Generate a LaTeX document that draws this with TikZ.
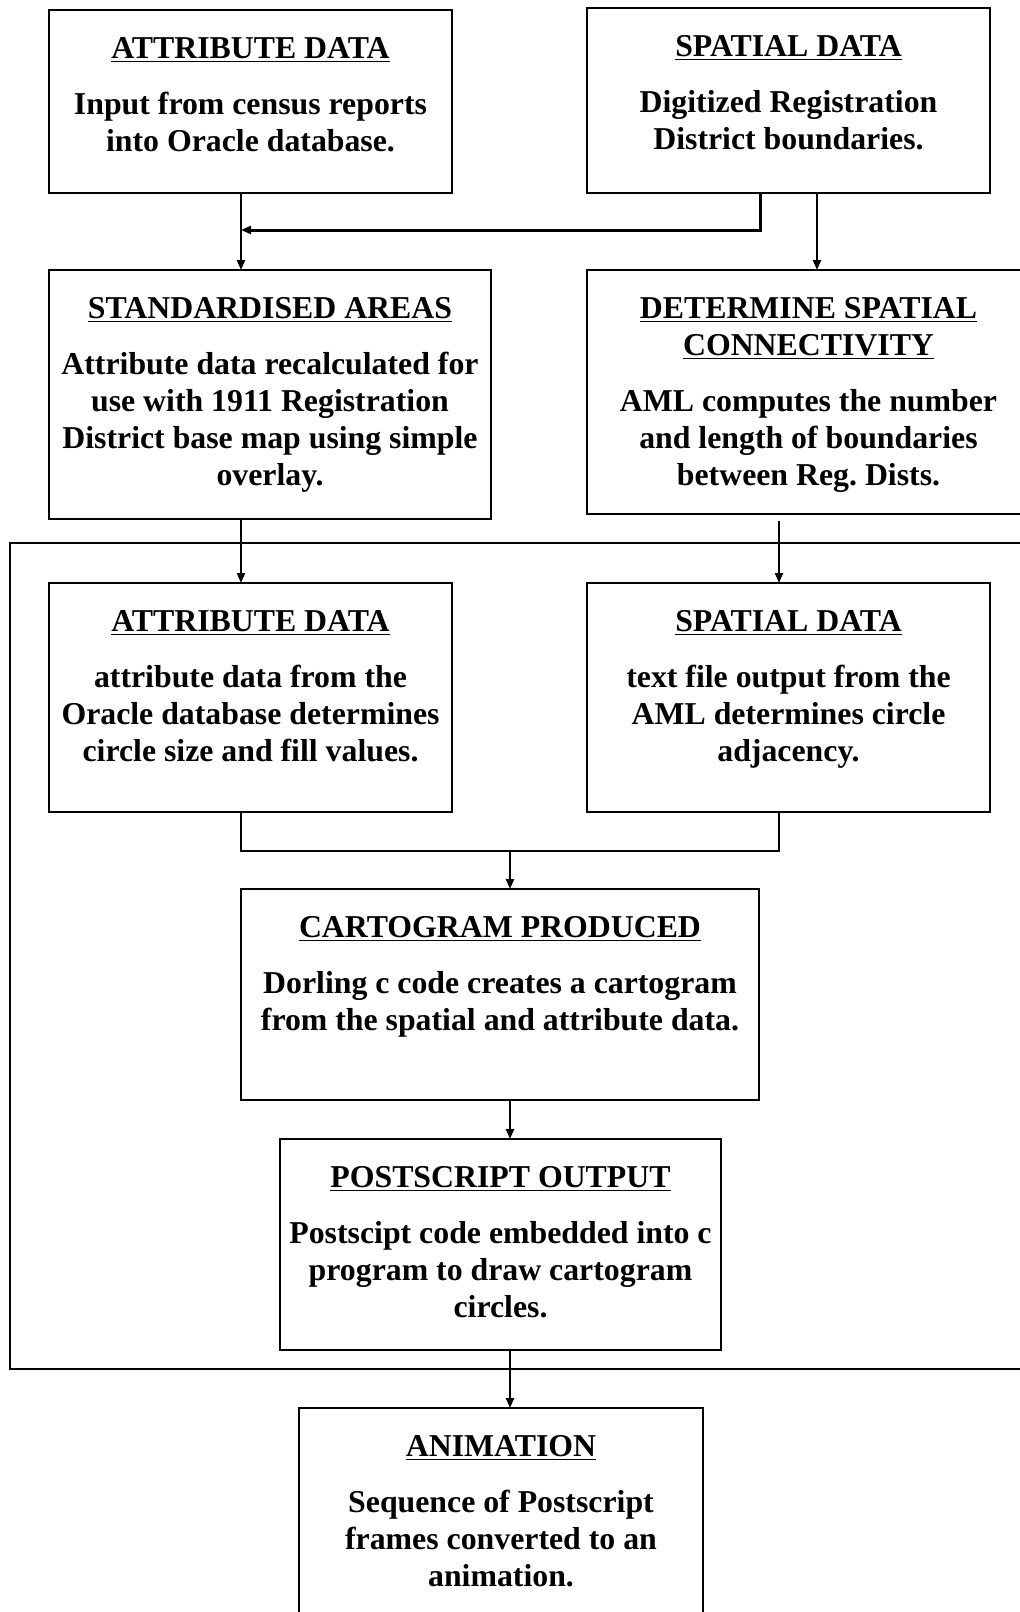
\documentclass[tikz,border=0pt]{standalone}
\usepackage{fontspec}
\setmainfont{Liberation Serif}
\usetikzlibrary{arrows.meta, positioning, calc}

\begin{document}
\begin{tikzpicture}[x=0.5pt, y=-0.5pt,
  box/.style={draw, line width=0.75pt, anchor=north west, inner sep=0pt, outer sep=0pt},
  txt/.style={anchor=north, align=center, inner sep=0pt, font=\bfseries\frenchspacing\fontsize{15.9}{18.5}\selectfont},
  flow/.style={-{Triangle[length=5pt, width=4pt]}, line width=1.1pt},
  merge/.style={line width=0.6pt},
]
  \useasboundingbox (0,0) rectangle (1020,1612);
  \clip (0,0) rectangle (1020,1612);

  \node[box, minimum width=201.5pt, minimum height=91.5pt] (attrA) at (49,10) {};
  \node[box, minimum width=201.5pt, minimum height=92.5pt] (spatA) at (587,8) {};
  \node[box, minimum width=221pt, minimum height=124.5pt] (stdA) at (49,270) {};
  \node[box, minimum width=221.5pt, minimum height=122pt] (conn) at (587,270) {};
  \node[box, minimum width=201.5pt, minimum height=114.5pt] (attrB) at (49,583) {};
  \node[box, minimum width=201.5pt, minimum height=114.5pt] (spatB) at (587,583) {};
  \node[box, minimum width=259pt, minimum height=105.5pt] (cart) at (241,889) {};
  \node[box, minimum width=220.5pt, minimum height=105.5pt] (post) at (280,1139) {};
  \node[box, minimum width=202pt, minimum height=115pt] (anim) at (299,1408) {};

  \node[txt] (attrAt) at ($(attrA.north)+(0,27)$) {\underline{ATTRIBUTE DATA}\\[9.5pt]
    Input from census reports\\into Oracle database.};
  \node[txt] (spatAt) at ($(spatA.north)+(0,27)$) {\underline{SPATIAL DATA}\\[9.5pt]
    Digitized Registration\\District boundaries.};
  \node[txt] (stdAt) at ($(stdA.north)+(0,27)$) {\underline{STANDARDISED AREAS}\\[9.5pt]
    Attribute data recalculated for\\use with 1911 Registration\\District base map using simple\\overlay.};
  \node[txt] (connt) at ($(conn.north)+(0,27)$) {\underline{DETERMINE SPATIAL}\\\underline{CONNECTIVITY}\\[9.5pt]
    AML computes the number\\and length of boundaries\\between Reg. Dists.};
  \node[txt] (attrBt) at ($(attrB.north)+(0,27)$) {\underline{ATTRIBUTE DATA}\\[9.5pt]
    attribute data from the\\Oracle database determines\\circle size and fill values.};
  \node[txt] (spatBt) at ($(spatB.north)+(0,27)$) {\underline{SPATIAL DATA}\\[9.5pt]
    text file output from the\\AML determines circle\\adjacency.};
  \node[txt] (cartt) at ($(cart.north)+(0,27)$) {\underline{CARTOGRAM PRODUCED}\\[9.5pt]
    Dorling c code creates a cartogram\\from the spatial and attribute data.};
  \node[txt] (postt) at ($(post.north)+(0,27)$) {\underline{POSTSCRIPT OUTPUT}\\[9.5pt]
    Postscipt code embedded into c\\program to draw cartogram\\circles.};
  \node[txt] (animt) at ($(anim.north)+(0,27)$) {\underline{ANIMATION}\\[9.5pt]
    Sequence of Postscript\\frames converted to an\\animation.};

  \draw[line width=0.75pt] (1030,543) -- (10,543) -- (10,1369) -- (1030,1369);

  \coordinate (cl) at (241,0);
  \coordinate (cr) at (779,0);
  \coordinate (cs) at (817,0);
  \coordinate (cf) at (760,230);
  \coordinate (cm) at (510,851);

  \draw[flow] (attrA.south -| cl) -- (stdA.north -| cl);
  \draw[flow, line width=1.5pt] (spatA.south -| cf) -- (cf) -- (cf -| cl);
  \draw[flow] (spatA.south -| cs) -- (conn.north -| cs);
  \draw[flow] (stdA.south -| cl) -- (attrB.north -| cl);
  \draw[flow] ($(conn.south -| cr)+(0,7)$) -- (spatB.north -| cr);
  \draw[merge] (attrB.south -| cl) |- (cm) -| (spatB.south -| cr);
  \draw[flow] (cm) -- (cart.north -| cm);
  \draw[flow] (cart.south -| cm) -- (post.north -| cm);
  \draw[flow] (post.south -| cm) -- (anim.north -| cm);
\end{tikzpicture}
\end{document}
